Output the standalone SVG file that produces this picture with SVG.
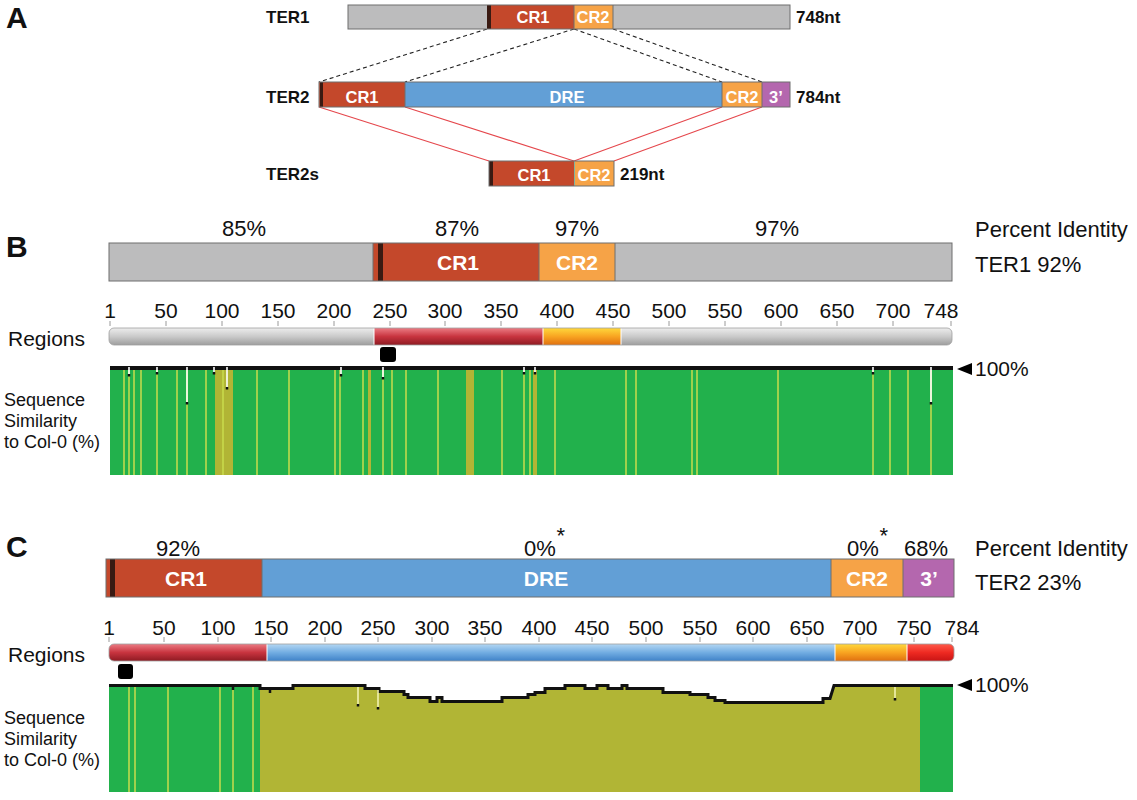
<svg xmlns="http://www.w3.org/2000/svg" width="1137" height="800" viewBox="0 0 1137 800">
<defs>
<style>
text{font-family:"Liberation Sans",Arial,sans-serif;fill:#111}
.panel{font-size:30px;font-weight:bold}
.lbl{font-size:17px;font-weight:bold}
.inA{font-size:16.5px;font-weight:bold;fill:#fff;text-anchor:middle}
.inB{font-size:21px;font-weight:bold;fill:#fff;text-anchor:middle}
.pct{font-size:22px;text-anchor:middle}
.side{font-size:22px}
.num{font-size:21px;text-anchor:middle}
.seq{font-size:18px}
.ast{font-size:22px}
.gray{fill:#bcbcbd}
.cr1{fill:#c4482b}
.cr2{fill:#f6a347}
.dre{fill:#629fd6}
.tp{fill:#b467ae}
.dark{fill:#3a1a12}
.frame{fill:none;stroke:#6e6e6e;stroke-width:1}
.sep{stroke:#6e6e6e;stroke-width:1}
.dash{stroke:#222;stroke-width:1.1;stroke-dasharray:4 3;fill:none}
.red{stroke:#e5474c;stroke-width:1.1;fill:none}
.green{fill:#22b14c}
.olive{fill:#b1b535}
.yl{stroke:#c9dc4c;stroke-width:1.5}
.spike{stroke:#fff;stroke-width:1.6}
.tick{stroke:#9a9a9a;stroke-width:1}
.rsep{stroke:#fff;stroke-width:1}
</style>
<linearGradient id="gGray" x1="0" y1="0" x2="0" y2="1"><stop offset="0" stop-color="#ededed"/><stop offset="0.5" stop-color="#cacaca"/><stop offset="1" stop-color="#9e9e9e"/></linearGradient>
<linearGradient id="gRed" x1="0" y1="0" x2="0" y2="1"><stop offset="0" stop-color="#ec7c84"/><stop offset="0.5" stop-color="#c8343f"/><stop offset="1" stop-color="#8e1a22"/></linearGradient>
<linearGradient id="gOrange" x1="0" y1="0" x2="0" y2="1"><stop offset="0" stop-color="#ffd83c"/><stop offset="0.5" stop-color="#f8a421"/><stop offset="1" stop-color="#e07010"/></linearGradient>
<linearGradient id="gBlue" x1="0" y1="0" x2="0" y2="1"><stop offset="0" stop-color="#b4d7f3"/><stop offset="0.5" stop-color="#72ade2"/><stop offset="1" stop-color="#3f82c8"/></linearGradient>
<linearGradient id="gRed2" x1="0" y1="0" x2="0" y2="1"><stop offset="0" stop-color="#ff5a4a"/><stop offset="0.5" stop-color="#ee2a22"/><stop offset="1" stop-color="#c81414"/></linearGradient>
<clipPath id="clipRB"><rect x="109" y="328" width="843" height="17" rx="5"/></clipPath>
<clipPath id="clipRC"><rect x="109" y="644" width="845" height="17" rx="5"/></clipPath>
</defs>

<!-- Panel letters -->
<text class="panel" x="6" y="28">A</text>
<text class="panel" x="6" y="257">B</text>
<text class="panel" x="6" y="557">C</text>

<!-- Panel A connectors -->
<g id="connectors">
<line class="dash" x1="487" y1="29" x2="319" y2="82"/>
<line class="dash" x1="574" y1="29" x2="405" y2="82"/>
<line class="dash" x1="574" y1="29" x2="722" y2="82"/>
<line class="dash" x1="613" y1="29" x2="762" y2="82"/>
<line class="red" x1="319" y1="107" x2="489" y2="161"/>
<line class="red" x1="405" y1="107" x2="574" y2="161"/>
<line class="red" x1="722" y1="107" x2="574" y2="161"/>
<line class="red" x1="762" y1="107" x2="614" y2="161"/>
</g>

<g id="ter1">
<text class="lbl" x="266" y="23">TER1</text>
<rect class="gray" x="348" y="5" width="139" height="24"/>
<rect class="dark" x="487" y="5" width="4" height="24"/>
<rect class="cr1" x="491" y="5" width="83" height="24"/>
<rect class="cr2" x="574" y="5" width="39" height="24"/>
<rect class="gray" x="613" y="5" width="177" height="24"/>
<line class="sep" x1="574" y1="5" x2="574" y2="29"/>
<line class="sep" x1="613" y1="5" x2="613" y2="29"/>
<rect class="frame" x="348" y="5" width="442" height="24"/>
<text class="inA" x="533" y="23">CR1</text>
<text class="inA" x="593" y="23">CR2</text>
<text class="lbl" x="796" y="23">748nt</text>
</g>

<g id="ter2">
<text class="lbl" x="266" y="103">TER2</text>
<rect class="cr1" x="319" y="82" width="86" height="25"/>
<rect class="dark" x="320" y="82" width="3" height="25"/>
<rect class="dre" x="405" y="82" width="317" height="25"/>
<rect class="cr2" x="722" y="82" width="40" height="25"/>
<rect class="tp" x="762" y="82" width="28" height="25"/>
<line class="sep" x1="405" y1="82" x2="405" y2="107"/>
<line class="sep" x1="722" y1="82" x2="722" y2="107"/>
<line class="sep" x1="762" y1="82" x2="762" y2="107"/>
<rect class="frame" x="319" y="82" width="471" height="25"/>
<text class="inA" x="362" y="103">CR1</text>
<text class="inA" x="567" y="103">DRE</text>
<text class="inA" x="742" y="103">CR2</text>
<text class="inA" x="776" y="103">3’</text>
<text class="lbl" x="796" y="103">784nt</text>
</g>

<g id="ter2s">
<text class="lbl" x="266" y="180">TER2s</text>
<rect class="cr1" x="489" y="161" width="85" height="25"/>
<rect class="dark" x="489" y="161" width="4" height="25"/>
<rect class="cr2" x="574" y="161" width="40" height="25"/>
<line x1="574.5" y1="161" x2="574.5" y2="186" stroke="#7fb3a0" stroke-width="1"/>
<rect class="frame" x="489" y="161" width="125" height="25"/>
<text class="inA" x="534" y="181">CR1</text>
<text class="inA" x="594" y="181">CR2</text>
<text class="lbl" x="620" y="180">219nt</text>
</g>

<!-- Panel B -->
<g id="b-identity">
<text class="pct" x="244" y="236">85%</text>
<text class="pct" x="457" y="236">87%</text>
<text class="pct" x="577" y="236">97%</text>
<text class="pct" x="777" y="236">97%</text>
<text class="side" x="975" y="237">Percent Identity</text>
<text class="side" x="975" y="272">TER1 92%</text>
</g>
<g id="b-bar">
<rect class="gray" x="109" y="243" width="264" height="38"/>
<rect class="cr1" x="373" y="243" width="166" height="38"/>
<rect class="dark" x="378" y="243" width="5" height="38"/>
<rect class="cr2" x="539" y="243" width="76" height="38"/>
<rect class="gray" x="615" y="243" width="337" height="38"/>
<line class="sep" x1="373" y1="243" x2="373" y2="281"/>
<line class="sep" x1="539" y1="243" x2="539" y2="281"/>
<line class="sep" x1="615" y1="243" x2="615" y2="281"/>
<rect class="frame" x="109" y="243" width="843" height="38"/>
<text class="inB" x="458" y="270">CR1</text>
<text class="inB" x="577" y="270">CR2</text>
</g>
<g id="b-ruler">
<text class="num" x="110" y="318">1</text>
<text class="num" x="166" y="318">50</text>
<text class="num" x="222" y="318">100</text>
<text class="num" x="278" y="318">150</text>
<text class="num" x="334" y="318">200</text>
<text class="num" x="390" y="318">250</text>
<text class="num" x="445" y="318">300</text>
<text class="num" x="501" y="318">350</text>
<text class="num" x="557" y="318">400</text>
<text class="num" x="613" y="318">450</text>
<text class="num" x="669" y="318">500</text>
<text class="num" x="725" y="318">550</text>
<text class="num" x="781" y="318">600</text>
<text class="num" x="837" y="318">650</text>
<text class="num" x="893" y="318">700</text>
<text class="num" x="941" y="318">748</text>
<path class="tick" d="M110 321v5M166 321v5M222 321v5M278 321v5M334 321v5M390 321v5M445 321v5M501 321v5M557 321v5M613 321v5M669 321v5M725 321v5M781 321v5M837 321v5M893 321v5M951 321v5"/>
</g>
<g id="b-regions">
<text class="num" x="8" y="346" style="text-anchor:start">Regions</text>
<g clip-path="url(#clipRB)">
<rect x="109" y="328" width="265" height="17" fill="url(#gGray)"/>
<rect x="374" y="328" width="169" height="17" fill="url(#gRed)"/>
<rect x="543" y="328" width="78" height="17" fill="url(#gOrange)"/>
<rect x="621" y="328" width="331" height="17" fill="url(#gGray)"/>
<path class="rsep" d="M374 328v17M543 328v17M621 328v17"/>
</g>
<rect x="109" y="328" width="843" height="17" rx="5" fill="none" stroke="#a0a0a0" stroke-width="0.8"/>
<rect x="380" y="347" width="16" height="15" rx="3" fill="#000"/>
</g>
<g id="b-similarity">
<text class="seq" x="4" y="406">Sequence</text>
<text class="seq" x="4" y="427">Similarity</text>
<text class="seq" x="4" y="448">to Col-0 (%)</text>
<rect class="green" x="110" y="367" width="843" height="108"/>
<rect class="olive" x="215" y="368" width="18" height="107"/>
<rect class="olive" x="466" y="368" width="8" height="107"/>
<rect class="olive" x="368" y="368" width="3" height="107"/>
<rect class="olive" x="533" y="368" width="4" height="107"/>
<path class="yl" d="M124 368V475M129 368V475M134 368V475M141 368V475M157 368V475M177 368V475M187 368V475M206 368V475M223 368V475M257 368V475M289 368V475M335 368V475M340 368V475M363 368V475M383 368V475M392 368V475M406 368V475M438 368V475M502 368V475M524 368V475M530 368V475M555 368V475M626 368V475M636 368V475M692 368V475M697 368V475M778 368V475M873 368V475M890 368V475M908 368V475M931 368V475"/>
<rect x="110" y="366" width="843" height="4" fill="#111"/>
<path class="spike" d="M129 367V374M157 367V372M187 367V402M214 367V372M227 367V387M341 367V374M383 367V377M524 367V372M535 367V372M873 367V372M931 367V402"/>
<path stroke="#111" stroke-width="2.5" d="M129 374v2.5M157 372v2.5M187 402v2.5M214 372v2.5M227 387v2.5M341 374v2.5M383 377v2.5M524 372v2.5M535 372v2.5M873 372v2.5M931 402v2.5"/>
<polygon points="957,369 972,363 972,375" fill="#000"/>
<text class="num" x="975" y="376" style="text-anchor:start">100%</text>
</g>

<!-- Panel C -->
<g id="c-identity">
<text class="pct" x="540" y="556">0%</text>
<text class="ast" x="556.5" y="543">*</text>
<text class="pct" x="178" y="556">92%</text>
<text class="pct" x="863" y="556">0%</text>
<text class="ast" x="879.5" y="543">*</text>
<text class="pct" x="926" y="556">68%</text>
<text class="side" x="975" y="556">Percent Identity</text>
<text class="side" x="975" y="590">TER2 23%</text>
</g>
<g id="c-bar">
<rect class="cr1" x="106" y="559" width="156" height="38"/>
<rect class="dark" x="110" y="559" width="5" height="38"/>
<rect class="dre" x="262" y="559" width="569" height="38"/>
<rect class="cr2" x="831" y="559" width="72" height="38"/>
<rect class="tp" x="903" y="559" width="51" height="38"/>
<line class="sep" x1="262" y1="559" x2="262" y2="597"/>
<line class="sep" x1="831" y1="559" x2="831" y2="597"/>
<line class="sep" x1="903" y1="559" x2="903" y2="597"/>
<rect class="frame" x="106" y="559" width="848" height="38"/>
<text class="inB" x="186" y="586">CR1</text>
<text class="inB" x="546" y="586">DRE</text>
<text class="inB" x="867" y="586">CR2</text>
<text class="inB" x="929" y="586">3’</text>
</g>
<g id="c-ruler">
<text class="num" x="109" y="635">1</text>
<text class="num" x="164" y="635">50</text>
<text class="num" x="218" y="635">100</text>
<text class="num" x="271" y="635">150</text>
<text class="num" x="325" y="635">200</text>
<text class="num" x="378" y="635">250</text>
<text class="num" x="432" y="635">300</text>
<text class="num" x="485" y="635">350</text>
<text class="num" x="539" y="635">400</text>
<text class="num" x="592" y="635">450</text>
<text class="num" x="646" y="635">500</text>
<text class="num" x="700" y="635">550</text>
<text class="num" x="753" y="635">600</text>
<text class="num" x="807" y="635">650</text>
<text class="num" x="860" y="635">700</text>
<text class="num" x="914" y="635">750</text>
<text class="num" x="962" y="635">784</text>
<path class="tick" d="M109 637v5M164 637v5M218 637v5M271 637v5M325 637v5M378 637v5M432 637v5M485 637v5M539 637v5M592 637v5M646 637v5M700 637v5M753 637v5M807 637v5M860 637v5M914 637v5M952 637v5"/>
</g>
<g id="c-regions">
<text class="num" x="8" y="662" style="text-anchor:start">Regions</text>
<g clip-path="url(#clipRC)">
<rect x="109" y="644" width="158" height="17" fill="url(#gRed)"/>
<rect x="267" y="644" width="568" height="17" fill="url(#gBlue)"/>
<rect x="835" y="644" width="72" height="17" fill="url(#gOrange)"/>
<rect x="907" y="644" width="47" height="17" fill="url(#gRed2)"/>
<path class="rsep" d="M267 644v17M835 644v17M907 644v17"/>
</g>
<rect x="109" y="644" width="845" height="17" rx="5" fill="none" stroke="#a0a0a0" stroke-width="0.8"/>
<rect x="118" y="664" width="15" height="15" rx="3" fill="#000"/>
</g>
<g id="c-similarity">
<text class="seq" x="4" y="724">Sequence</text>
<text class="seq" x="4" y="745">Similarity</text>
<text class="seq" x="4" y="766">to Col-0 (%)</text>
<rect class="green" x="109" y="685" width="151" height="107"/>
<path class="yl" d="M129 686V792M135 686V792M168 686V792M220 686V792M233 686V792M253 686V792"/>
<polygon class="olive" points="260,688 293,688 293,685 365,685 365,688 379,688 379,691 404,691 404,694 408,694 408,697 430,697 430,701 437,701 437,697 442,697 442,701 502,701 502,697 528,697 528,694 535,694 535,692 545,692 545,688 565,688 565,685 585,685 585,688 597,688 597,685 608,685 608,688 622,688 622,685 627,685 627,688 663,688 663,692 690,692 690,694 708,694 708,697 715,697 715,700 725,700 725,702 823,702 823,698 830,698 834,685 920,685 920,792 260,792"/>
<rect class="green" x="920" y="685" width="33" height="107"/>
<polyline fill="none" stroke="#111" stroke-width="3" points="109,685.5 260,685.5 260,688.5 293,688.5 293,685.5 365,685.5 365,688.5 379,688.5 379,691.5 404,691.5 404,694.5 408,694.5 408,697.5 430,697.5 430,701.5 437,701.5 437,697.5 442,697.5 442,701.5 502,701.5 502,697.5 528,697.5 528,694.5 535,694.5 535,692.5 545,692.5 545,688.5 565,688.5 565,685.5 585,685.5 585,688.5 597,688.5 597,685.5 608,685.5 608,688.5 622,688.5 622,685.5 627,685.5 627,688.5 663,688.5 663,692.5 690,692.5 690,694.5 708,694.5 708,697.5 715,697.5 715,700.5 725,700.5 725,702.5 823,702.5 823,698.5 830,698.5 834,685.5 953,685.5"/>
<path stroke="#f2f2b0" stroke-width="1.6" d="M358 687V704M378 690V707M895 687V698"/>
<path stroke="#111" stroke-width="2.5" d="M358 704v2.5M378 707v2.5M895 698v2.5M233 687v3M270 690v3"/>
<polygon points="957,685 972,679 972,691" fill="#000"/>
<text class="num" x="975" y="692" style="text-anchor:start">100%</text>
</g>
</svg>
